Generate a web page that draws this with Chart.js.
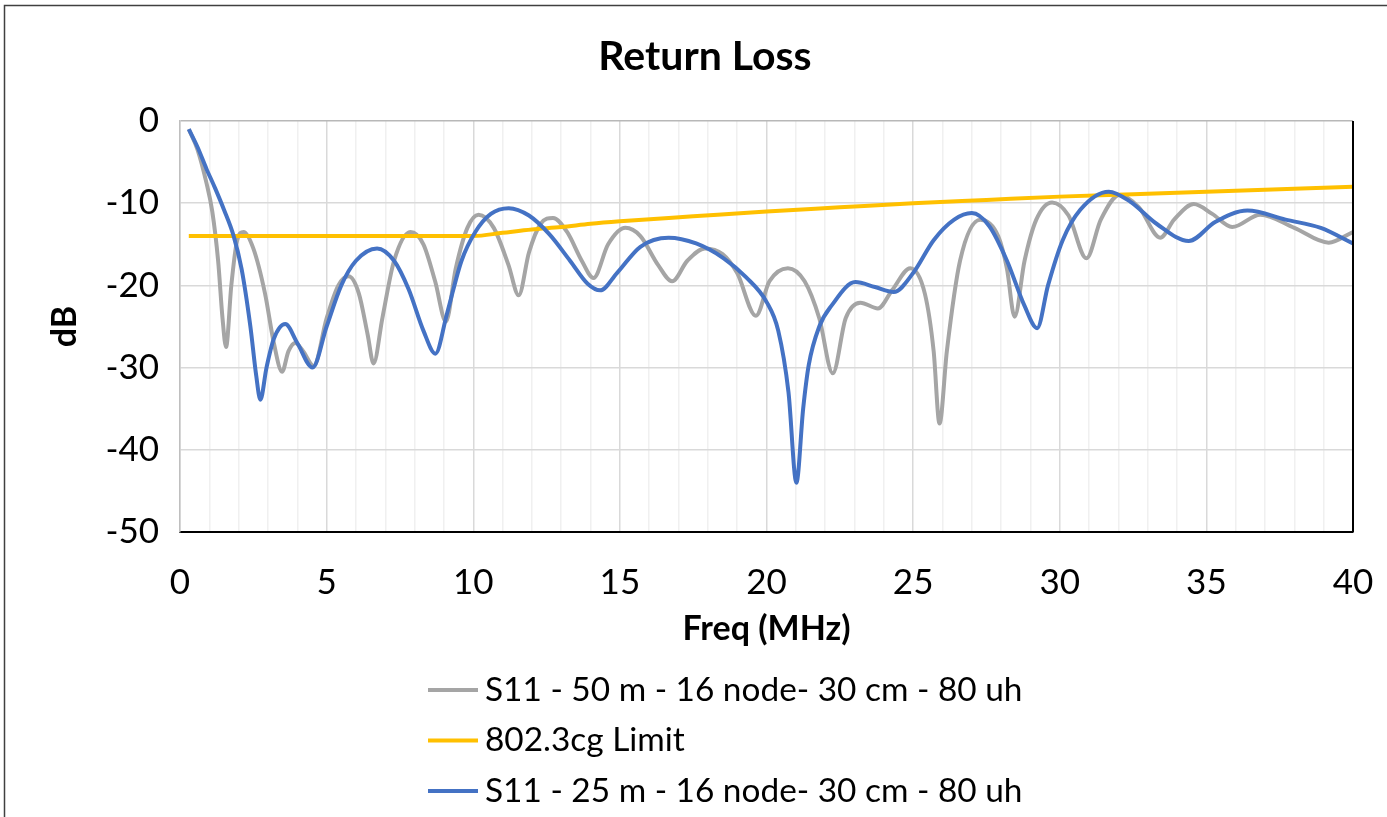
<!DOCTYPE html>
<html>
<head>
<meta charset="utf-8">
<script src="https://cdn.jsdelivr.net/npm/chart.js@4"></script>
<style>
  body { margin: 0; background: #fff; }
  #wrap { width: 1387px; height: 817px; }
</style>
</head>
<body>
<div id="wrap"><canvas id="myChart" width="1387" height="817"></canvas></div>
<script>
// S11 - 50 m (gray)
const grayFreq = [0.3, 0.6, 0.9, 1.1, 1.3, 1.45, 1.57, 1.75, 1.95, 2.17, 2.5, 2.9, 3.2, 3.48, 3.7, 3.93, 4.2, 4.56,
  5.0, 5.4, 5.75, 6.1, 6.4, 6.6, 6.9, 7.3, 7.86, 8.3, 8.7, 9.07, 9.4, 9.8, 10.18, 10.7, 11.2, 11.55,
  11.9, 12.3, 12.72, 13.2, 13.7, 14.1, 14.6, 15.19, 15.7, 16.3, 16.78, 17.3, 17.9, 18.5, 19.0, 19.64,
  20.1, 20.73, 21.3, 21.8, 22.26, 22.7, 23.2, 23.8, 24.3, 24.9, 25.4, 25.7, 25.9, 26.15, 26.6, 27.29,
  27.9, 28.2, 28.46, 28.8, 29.2, 29.74, 30.3, 30.91, 31.4, 32.04, 32.7, 33.43, 33.9, 34.57, 35.2,
  35.88, 36.84, 38.0, 39.17, 40.0];
const grayDb = [-1.0, -3.5, -7.5, -11, -17, -24, -27.5, -20, -14.5, -13.5, -15.5, -21, -27, -30.5, -28, -27, -28, -29.8,
  -24, -20, -18.9, -21, -26, -29.5, -24, -17, -13.5, -15, -19.5, -24.4, -18, -13, -11.4, -13, -17.5, -21.2,
  -16, -12.5, -11.8, -13.5, -17, -19.1, -15, -13.0, -14, -17.5, -19.5, -17, -15.5, -16.2, -18.5, -23.7,
  -19.5, -17.9, -19.5, -24, -30.7, -24, -22.1, -22.8, -20.5, -17.9, -21, -28, -36.8, -28, -17, -12.0,
  -14, -18, -23.8, -17, -12, -9.9, -11.5, -16.7, -12, -9.0, -10.5, -14.2, -12, -10.1, -11.3,
  -12.9, -11.4, -13.0, -14.8, -13.5];

// 802.3cg limit (yellow)
const limitFreq = [0.3, 10, 11, 12, 13, 14, 15, 17.5, 20, 22.5, 25, 27.5, 30, 32.5, 35, 37.5, 40];
const limitDb = [-14, -14, -13.6, -13.2, -12.9, -12.5, -12.2, -11.6, -11.0, -10.5, -10.0, -9.6, -9.2, -8.9, -8.6, -8.3, -8.0];

// S11 - 25 m (blue)
const blueFreq = [0.3, 0.6, 0.9, 1.2, 1.5, 1.83, 2.1, 2.4, 2.6, 2.74, 2.95, 3.2, 3.59, 4.0, 4.52, 5.0, 5.5, 6.0,
  6.72, 7.3, 7.8, 8.3, 8.71, 9.1, 9.6, 10.07, 10.6, 11.21, 11.9, 12.6, 13.3, 13.9, 14.33, 14.9, 15.7,
  16.66, 17.6, 18.54, 19.3, 20.0, 20.4, 20.75, 21.02, 21.25, 21.44, 21.8, 22.23, 23.03, 23.7, 24.34,
  25.0, 25.7, 26.4, 27.0, 27.6, 28.2, 28.8, 29.23, 29.6, 30.1, 30.7, 31.67, 32.4, 33.3, 34.4, 35.3,
  36.4, 37.7, 38.9, 40.0];
const blueDb = [-1.0, -3.2, -5.8, -8.2, -10.8, -14, -18, -25, -31, -33.9, -30, -26.5, -24.7, -27, -30.0, -25, -20, -17,
  -15.5, -17, -20.5, -25.5, -28.3, -23.5, -17, -13.5, -11.3, -10.6, -11.5, -13.8, -17, -19.8, -20.6, -18.5, -15.3,
  -14.2, -14.9, -16.7, -19, -22, -25.5, -33, -44.0, -35, -29.7, -25, -22.4, -19.6, -20.2, -20.8,
  -18.5, -14.5, -12, -11.2, -12.8, -17, -22.5, -25.2, -20, -14.5, -10.8, -8.6, -9.8, -12.5, -14.6, -12.3,
  -10.9, -12.0, -13.0, -14.9];

const seriesNames = [
  "S11 - 50 m - 16 node- 30 cm - 80 uh",
  "802.3cg Limit",
  "S11 - 25 m - 16 node- 30 cm - 80 uh"
];
const seriesColors = ["#A5A5A5", "#FFC000", "#4472C4"];

const toXY = (xs, ys) => xs.map((x, i) => ({ x: x, y: ys[i] }));

// frame, title, right border and legend drawn by hand
const decor = {
  id: "decor",
  beforeDraw(chart) {
    const c = chart.ctx;
    c.save();
    c.fillStyle = "#fff";
    c.fillRect(0, 0, chart.width, chart.height);
    c.strokeStyle = "#404040";
    c.lineWidth = 1.5;
    c.strokeRect(4.5, 5.5, chart.width + 10, chart.height + 10);

    c.fillStyle = "#000";
    c.font = "bold 41px Lato";
    c.textAlign = "center";
    c.textBaseline = "middle";
    c.fillText("Return Loss", 705, 57);
    c.restore();
  },
  afterDraw(chart) {
    const c = chart.ctx;
    const a = chart.chartArea;
    c.save();
    c.strokeStyle = "#000";
    c.lineWidth = 2;
    c.beginPath();
    c.moveTo(a.right, a.top);
    c.lineTo(a.right, a.bottom);
    c.stroke();

    c.font = "33.4px Lato";
    c.textBaseline = "middle";
    c.fillStyle = "#000";
    seriesNames.forEach((name, i) => {
      const y = 690 + i * 50.5;
      c.strokeStyle = seriesColors[i];
      c.lineWidth = 4;
      c.beginPath();
      c.moveTo(428, y);
      c.lineTo(478, y);
      c.stroke();
      c.fillText(name, 485, y);
    });
    c.restore();
  }
};

const lineSet = (i, xs, ys, order) => ({
  label: seriesNames[i],
  data: toXY(xs, ys),
  borderColor: seriesColors[i],
  backgroundColor: seriesColors[i],
  borderWidth: 4,
  pointRadius: 0,
  cubicInterpolationMode: "monotone",
  order: order
});

const ctx = document.getElementById("myChart").getContext("2d");
new Chart(ctx, {
  type: "line",
  data: {
    datasets: [
      lineSet(0, grayFreq, grayDb, 3),
      lineSet(1, limitFreq, limitDb, 2),
      lineSet(2, blueFreq, blueDb, 1)
    ]
  },
  options: {
    responsive: false,
    animation: false,
    layout: { padding: { left: 0, right: 34, top: 121, bottom: 168 } },
    plugins: {
      legend: { display: false },
      tooltip: { enabled: false },
      title: { display: false }
    },
    scales: {
      x: {
        type: "linear",
        min: 0,
        max: 40,
        afterFit: s => {
          s.height = 117;
          s.paddingLeft = 0;
          s.paddingRight = 0;
        },
        ticks: {
          stepSize: 1,
          autoSkip: false,
          maxRotation: 0,
          padding: 30,
          color: "#000",
          font: { family: "Lato", size: 35 },
          callback: v => (v % 5 === 0 ? v : "")
        },
        grid: {
          drawTicks: false,
          lineWidth: 1.5,
          color: c => (c.tick && c.tick.value % 5 === 0 ? "#d9d9d9" : "#f0f0f0")
        },
        border: { color: "#000", width: 2 },
        title: {
          display: true,
          text: "Freq (MHz)",
          color: "#000",
          font: { family: "Lato", size: 34, weight: "bold" },
          padding: { top: 0, bottom: 0 }
        }
      },
      y: {
        min: -50,
        max: 0,
        afterFit: s => { s.width = 180; },
        ticks: {
          stepSize: 10,
          padding: 21,
          color: "#000",
          font: { family: "Lato", size: 35 }
        },
        grid: {
          drawTicks: false,
          lineWidth: 1.5,
          color: c => (c.tick && c.tick.value === 0 ? "#b8b8b8" : "#d9d9d9")
        },
        border: { color: "#bfbfbf", width: 1.5 },
        title: {
          display: true,
          text: "dB",
          color: "#000",
          font: { family: "Lato", size: 34, weight: "bold" },
          padding: { top: 45, bottom: 0 }
        }
      }
    }
  },
  plugins: [decor]
});
</script>
</body>
</html>
